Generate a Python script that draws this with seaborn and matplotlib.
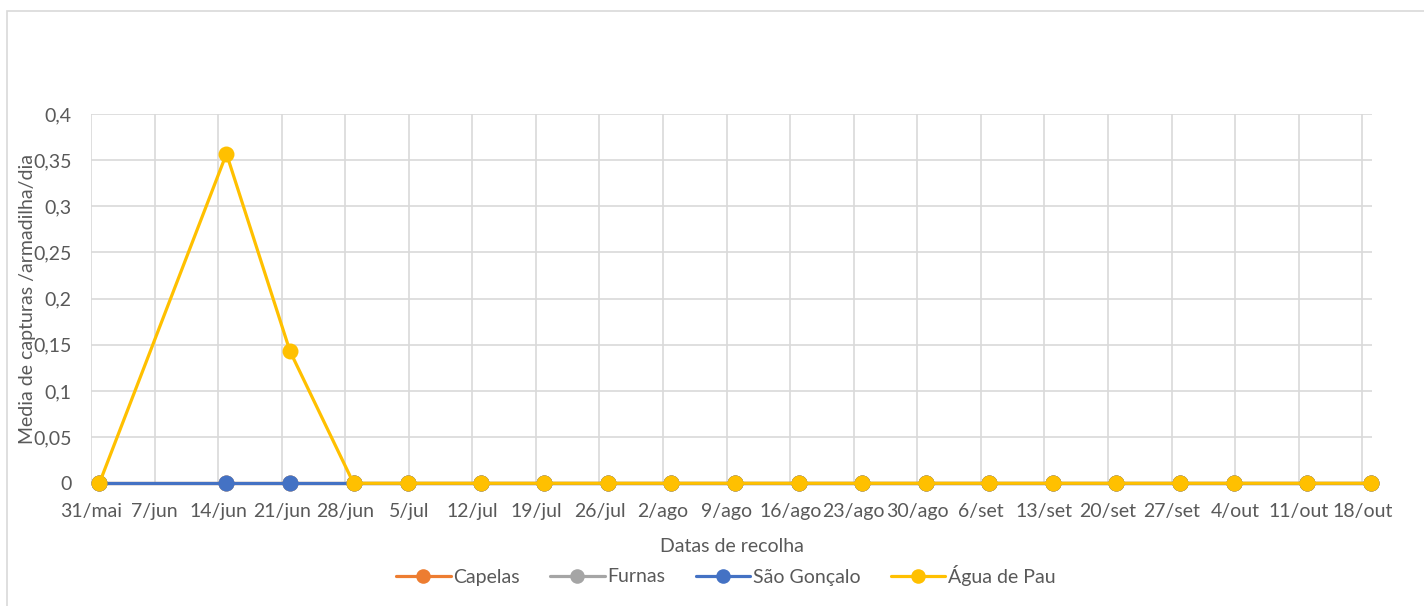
import numpy as np
import pandas as pd
import matplotlib
matplotlib.use("Agg")
import matplotlib.pyplot as plt
import matplotlib.dates as mdates
from matplotlib.lines import Line2D
from matplotlib.patches import Rectangle
import seaborn as sns

# dates of collection (day/month), values per site
dates = ["31/05", "14/06", "21/06", "28/06", "04/07", "12/07", "19/07", "26/07",
         "02/08", "09/08", "16/08", "23/08", "30/08", "06/09", "13/09", "20/09",
         "27/09", "03/10", "11/10", "18/10"]
capelas = [0] * 20
furnas = [0] * 20
sao_goncalo = [0] * 20
agua_de_pau = [0, 0.357, 0.143, 0, 0, 0, 0, 0, 0, 0, 0, 0, 0, 0, 0, 0, 0, 0, 0, 0]

sites = ["Capelas", "Furnas", "São Gonçalo", "Água de Pau"]
colors = ["#ED7D31", "#A5A5A5", "#4472C4", "#FFC000"]

tick_labels = ["31/mai", "7/jun", "14/jun", "21/jun", "28/jun", "5/jul", "12/jul",
               "19/jul", "26/jul", "2/ago", "9/ago", "16/ago", "23/ago", "30/ago",
               "6/set", "13/set", "20/set", "27/set", "4/out", "11/out", "18/out"]
y_ticks = [0, 0.05, 0.1, 0.15, 0.2, 0.25, 0.3, 0.35, 0.4]
y_labels = ["0", "0,05", "0,1", "0,15", "0,2", "0,25", "0,3", "0,35", "0,4"]

x = pd.to_datetime([d + "/2021" for d in dates], format="%d/%m/%Y")
df = pd.DataFrame({
    "data": np.tile(x, 4),
    "valor": capelas + furnas + sao_goncalo + agua_de_pau,
    "local": np.repeat(sites, len(dates)),
})

sns.set_style("white")
plt.rcParams["font.family"] = ["Lato", "DejaVu Sans"]
txt = "#595959"
fs = 14

fig = plt.figure(figsize=(14.24, 6.06), dpi=100)
ax = fig.add_axes([91 / 1424, 1 - 483.3 / 606, 1281 / 1424, 369.3 / 606])

sns.lineplot(data=df, x="data", y="valor", hue="local", hue_order=sites,
             palette=colors, marker="o", markersize=11.5, markeredgewidth=0,
             linewidth=2.3, legend=False, ax=ax, clip_on=False, zorder=3)

# weekly grid a little before each collection day, like the excel date axis
start = mdates.date2num(x[0]) - 0.92
ticks = start + 7 * np.arange(len(tick_labels))
ax.set_xlim(start, start + 141.08)
ax.set_xticks(ticks)
ax.set_xticklabels(tick_labels)
ax.set_ylim(0, 0.4)
ax.set_yticks(y_ticks)
ax.set_yticklabels(y_labels)

ax.grid(True, color="#D9D9D9", linewidth=1.2)
for s in ax.spines.values():
    s.set_visible(False)
ax.tick_params(axis="both", length=0, labelsize=fs, colors=txt)
ax.tick_params(axis="x", pad=14)
ax.tick_params(axis="y", pad=14)

ax.set_xlabel("Datas de recolha", fontsize=fs, color=txt)
ax.set_ylabel("Media de capturas /armadilha/dia", fontsize=fs, color=txt)
ax.xaxis.set_label_coords(0.5, -0.148)
ax.yaxis.set_label_coords(-0.043, 0.5)

handles = [Line2D([], [], color=c, marker="o", markersize=10.5, markeredgewidth=0,
                  linewidth=2.3) for c in colors]
fig.legend(handles, sites, loc="center", bbox_to_anchor=(726 / 1424, 1 - 575 / 606),
           ncol=4, frameon=False, fontsize=fs, labelcolor=txt,
           handlelength=2.8, handletextpad=0.15, columnspacing=1.55)

# chart area border
fig.patches.append(Rectangle((7 / 1424, -0.1), 1.1, 1.1 - 11 / 606,
                             transform=fig.transFigure, fill=False,
                             edgecolor="#D9D9D9", linewidth=1.2))

fig.savefig("out.png", dpi=100)
